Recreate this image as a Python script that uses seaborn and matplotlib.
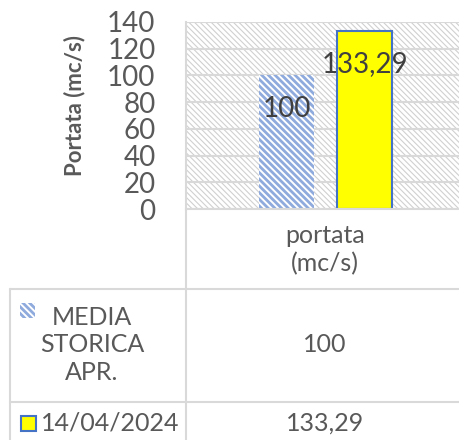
import numpy as np
import pandas as pd
import seaborn as sns
import matplotlib.pyplot as plt
from matplotlib.patches import Rectangle
from matplotlib.lines import Line2D

# data
categoria = 'portata\n(mc/s)'
serie = ['MEDIA\nSTORICA\nAPR.', '14/04/2024']
valori = [100, 133.29]
etichette = ['100', '133,29']
colori = ['#8FAADC', '#FFFF00']
yticks = [0, 20, 40, 60, 80, 100, 120, 140]

sns.set_style('white')
plt.rcParams['font.family'] = ['Lato', 'DejaVu Sans']

W, H = 460, 440
fig = plt.figure(figsize=(W / 100, H / 100), dpi=100)

def fx(x):
    return x / W

def fy(y):
    return 1 - y / H

# plot area (right edge goes a bit past the figure, as in the original)
ax = fig.add_axes([fx(186), fy(209), 279 / W, 187 / H])

df = pd.DataFrame({'categoria': [categoria] * len(serie),
                   'serie': serie,
                   'valore': valori})

# hatched background of the plot area
sfondo = Rectangle((0, 0), 1, 1, transform=ax.transAxes, facecolor='white',
                   edgecolor='#D0D0D0', linewidth=0, hatch='\\' * 6, zorder=-1)
if hasattr(sfondo, 'set_hatch_linewidth'):
    sfondo.set_hatch_linewidth(0.8)
ax.add_patch(sfondo)

sns.barplot(data=df, x='categoria', y='valore', hue='serie', hue_order=serie,
            palette=colori, width=0.56, gap=0.295, saturation=1,
            legend=False, ax=ax)

# style the bars like the excel ones
for p in ax.containers[0]:
    p.set_facecolor('white')
    p.set_edgecolor('#8FAADC')
    p.set_linewidth(0)
    p.set_hatch('\\' * 5)
    if hasattr(p, 'set_hatch_linewidth'):
        p.set_hatch_linewidth(2.0)
for p in ax.containers[1]:
    p.set_edgecolor('#4472C4')
    p.set_linewidth(1.5)

# data labels
for cont, lab in zip(ax.containers, etichette):
    for p in cont:
        ax.annotate(lab, (p.get_x() + p.get_width() / 2, p.get_height()),
                    xytext=(0, -24), textcoords='offset points',
                    ha='center', va='center', fontsize=20, color='#404040',
                    zorder=5)

ax.set_ylim(0, 140)
ax.set_yticks(yticks)
ax.set_xticks([])
ax.set_xlabel('')
ax.tick_params(axis='y', length=0, pad=22, labelsize=20, labelcolor='#595959')
ax.yaxis.grid(True, color='#D9D9D9', linewidth=1.5)
ax.set_axisbelow(True)
ax.set_ylabel('Portata (mc/s)', fontsize=16, fontweight='bold', color='#595959')
ax.yaxis.label.set_va('center')
ax.yaxis.set_label_coords((75 - 186) / 279, (209 - 106) / 187)

for s in ['top', 'right']:
    ax.spines[s].set_visible(False)
for s in ['left', 'bottom']:
    ax.spines[s].set_color('#D9D9D9')
    ax.spines[s].set_linewidth(1.5)

# data table below the chart
grigio = '#D9D9D9'
linee = [
    ((186, 186), (209, 440)),
    ((10, 465), (289, 289)),
    ((10, 465), (402, 402)),
    ((10, 10), (289, 440)),
]
for xs, ys in linee:
    fig.add_artist(Line2D([fx(x) for x in xs], [fy(y) for y in ys],
                          color=grigio, linewidth=1.5))

testo = dict(fontsize=18, color='#595959', ha='center', va='center',
             linespacing=1.25)
fig.text(fx(325), fy(250), categoria, **testo)
fig.text(fx(92), fy(345), serie[0], **testo)
fig.text(fx(325), fy(345), etichette[0], **testo)
fig.text(fx(110), fy(423), serie[1], **testo)
fig.text(fx(325), fy(423), etichette[1], **testo)

# legend keys inside the table
k1 = Rectangle((fx(20), fy(318)), 15 / W, 15 / H, transform=fig.transFigure,
               facecolor='white', edgecolor='#8FAADC', linewidth=0,
               hatch='\\' * 5)
if hasattr(k1, 'set_hatch_linewidth'):
    k1.set_hatch_linewidth(2.0)
fig.add_artist(k1)
k2 = Rectangle((fx(21), fy(431)), 15 / W, 15 / H, transform=fig.transFigure,
               facecolor='#FFFF00', edgecolor='#4472C4', linewidth=1.5)
fig.add_artist(k2)

fig.savefig('out.png', dpi=100)
